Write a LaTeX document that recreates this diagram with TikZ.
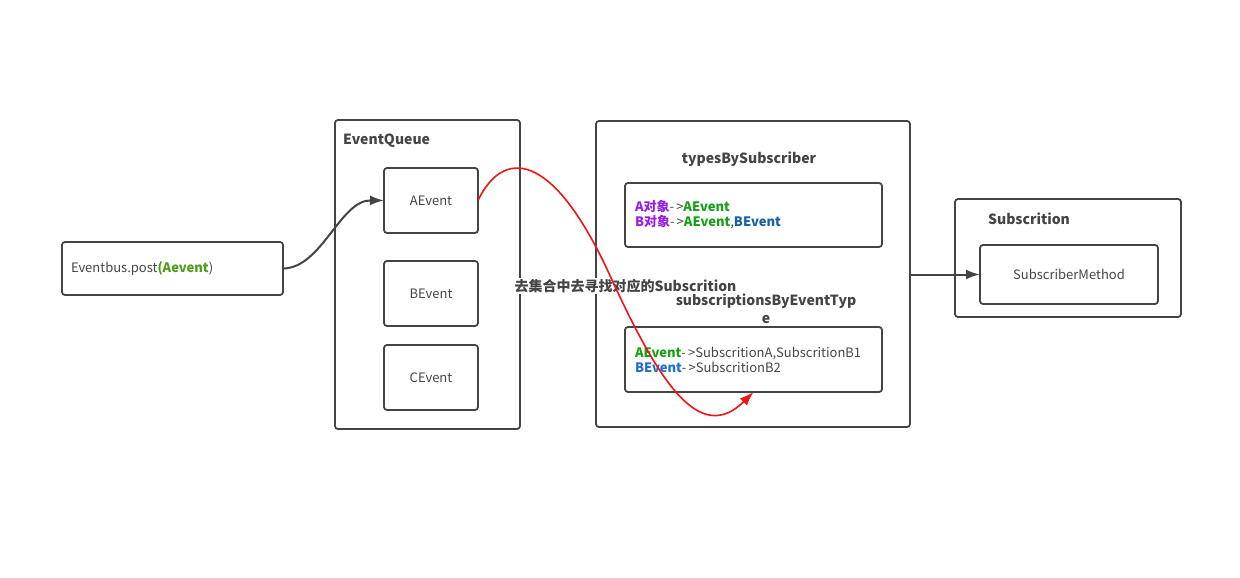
\documentclass[tikz,border=0pt]{standalone}
\usepackage{fontspec}
\setmainfont{Noto Sans CJK SC}
\usepackage{xcolor}
\usetikzlibrary{arrows.meta, positioning, calc}
\definecolor{Borde}    {RGB}{68, 68, 68}
\definecolor{Texto}    {RGB}{70, 70, 70}
\definecolor{Morado}   {RGB}{150,30,230}
\definecolor{VerdeEv}  {RGB}{22, 160,22}
\definecolor{AzulEv}   {RGB}{20, 95, 165}
\definecolor{AzulSub}  {RGB}{30, 110,210}
\definecolor{VerdePost}{RGB}{82, 155,25}
\definecolor{Rojo}     {RGB}{240,20, 20}

\begin{document}
\begin{tikzpicture}[x=1pt,y=-1pt,
    panel/.style={draw=Borde,line width=1.8pt,rounded corners=3pt,inner sep=0pt,outer sep=0pt},
    cell/.style={panel,text=Texto,font=\fontsize{13}{15}\selectfont},
    heading/.style={text=Borde,font=\fontsize{14}{18}\selectfont\bfseries,inner sep=1pt},
    link/.style={draw=Borde,line width=2pt,-{Latex[length=14pt,width=10pt]}}]
  \useasboundingbox (0,0) rectangle (1240,578);
  \node[cell,minimum width=221,minimum height=53,text width=203,inner xsep=9,align=left]
    (post) at (172.5,268.5) {Eventbus.post{\bfseries\color{VerdePost}(Aevent})};
  \node[panel,minimum width=185,minimum height=309] (queue) at (427.5,274.5) {};
  \node[heading,anchor=west] (qtitle) at (342,141) {EventQueue};
  \foreach \n/\y in {A/200.5,B/293.5,C/377.5}{
    \node[cell,minimum width=94,minimum height=65] (\n ev) at (431,\y) {\n Event};
  }
  \node[panel,minimum width=314,minimum height=306] (maps) at (753,274) {};
  \node[heading] (ttitle) at (749,159) {typesBySubscriber};
  \node[cell,minimum width=257,minimum height=64,text width=237,inner xsep=10,align=left]
    (types) at (753.5,215) {{\bfseries\color{Morado}A对象}-\,>{\bfseries\color{VerdeEv}AEvent}\\
    {\bfseries\color{Morado}B对象}-\,>{\bfseries\color{VerdeEv}AEvent},{\bfseries\color{AzulEv}BEvent}};
  \node[heading,align=center] (stitle) at (766,309) {subscriptionsByEventTyp\\e};
  \node[cell,minimum width=257,minimum height=65,text width=237,inner xsep=10,align=left]
    (subs) at (753.5,359.5) {{\bfseries\color{VerdeEv}AEvent}-\,>SubscritionA,SubscritionB1\\
    {\bfseries\color{AzulSub}BEvent}-\,>SubscritionB2};
  \node[panel,minimum width=226,minimum height=118] (target) at (1068,258) {};
  \node[heading,anchor=west] (ptitle) at (987,219) {Subscrition};
  \node[cell,minimum width=178,minimum height=59] (method) at (1069,274.5) {SubscriberMethod};
  \node[heading,fill=white] (hint) at (625.5,286) {去集合中去寻找对应的Subscrition};
  \draw[link] (post.east) .. controls (322,268) and (340,200) .. (Aev.west);
  \draw[link] (maps.east |- method.west) -- (method.west);
  \draw[Rojo,line width=1.6pt,-{Latex[length=14pt,width=10pt]}]
    (Aev.east) .. controls (502,150) and (552,146) .. (612,280)
    .. controls (660,384) and (700,445) .. (subs.south);
\end{tikzpicture}
\end{document}
